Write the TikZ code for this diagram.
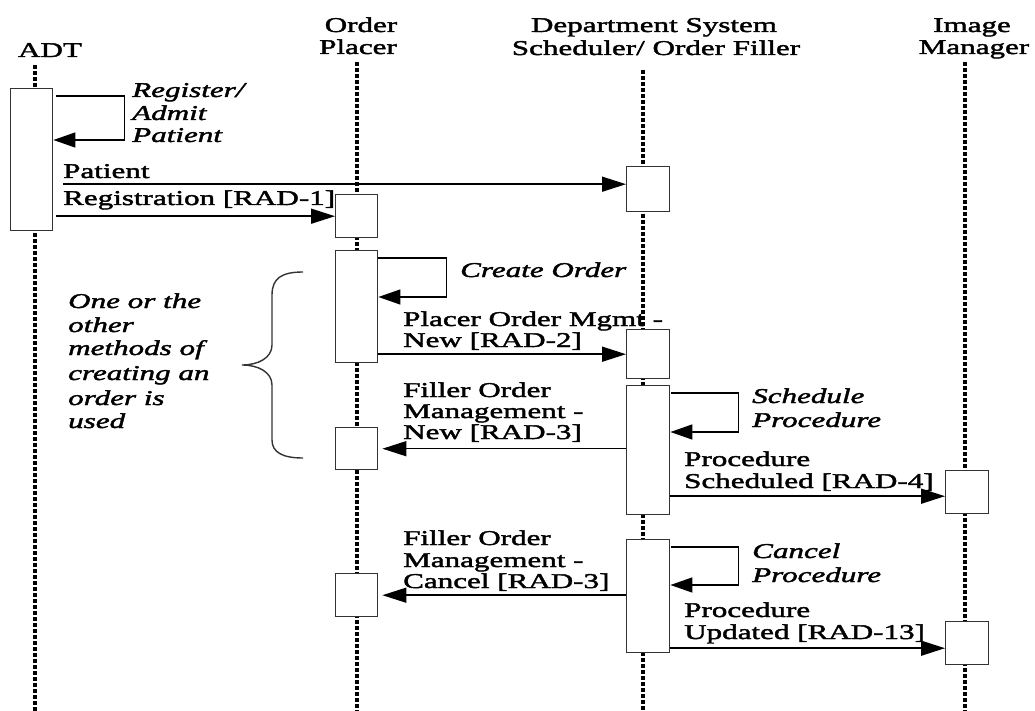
\documentclass[tikz,border=0pt]{standalone}
\usepackage{fontspec}
\setmainfont{Liberation Serif}[FakeStretch=1.48,FakeBold=2]
\usetikzlibrary{arrows.meta,calc}
\begin{document}
\begin{tikzpicture}[x=1pt,y=-1pt,
  font=\fontsize{21}{22}\selectfont,
  life/.style={line width=3.5pt, dash pattern=on 4pt off 2pt, black},
  act/.style={draw=black!80, line width=1.4pt, fill=white, inner sep=0pt,
              minimum width=43pt, anchor=north west},
  msg/.style={line width=1.5pt, -{Triangle[length=24pt,width=15pt]}},
  loopmsg/.style={line width=1.5pt, -{Triangle[length=22pt,width=15pt]}},
  lbl/.style={anchor=base west, inner sep=0pt},
  ilbl/.style={lbl, font=\fontsize{21}{22}\selectfont\itshape},
  hdr/.style={anchor=base, inner sep=0pt},
  brace/.style={line width=1.4pt, draw=black!80}]
\useasboundingbox (0,0) rectangle (1035,711);

% headers
\node[hdr] (hADT) at (50,57) {ADT};
\node[hdr] (hOP1) at (361,32) {Order};
\node[hdr] (hOP2) at (358,54) {Placer};
\node[hdr] (hDS1) at (654,32) {Department System};
\node[hdr] (hDS2) at (656,55) {Scheduler/ Order Filler};
\node[hdr] (hIM1) at (972,32) {Image};
\node[hdr] (hIM2) at (974,54) {Manager};

% lifelines
\coordinate (adtTop) at (35,65);  \coordinate (adtBot) at (35,711);
\coordinate (opTop) at (357,62);  \coordinate (opBot) at (357,711);
\coordinate (dsTop) at (643,70);  \coordinate (dsBot) at (643,711);
\coordinate (imTop) at (965,62);  \coordinate (imBot) at (965,711);
\draw[life] (adtTop) -- (adtBot);
\draw[life] (opTop) -- (opBot);
\draw[life] (dsTop) -- (dsBot);
\draw[life] (imTop) -- (imBot);

% activation boxes
\node[act, minimum width=42pt, minimum height=142pt] (adtA) at (10,88) {};
\node[act, minimum height=45pt]  (dsA) at (626,166) {};
\node[act, minimum width=42pt, minimum height=43pt]  (opA) at (335,194) {};
\node[act, minimum width=42pt, minimum height=112pt] (opB) at (335,250) {};
\node[act, minimum height=49pt]  (dsB) at (626,329) {};
\node[act, minimum height=129pt] (dsC) at (626,385) {};
\node[act, minimum width=42pt, minimum height=42pt]  (opC) at (335,427) {};
\node[act, minimum height=43pt]  (imA) at (945,470) {};
\node[act, minimum height=113pt] (dsD) at (626,539) {};
\node[act, minimum width=42pt, minimum height=43pt]  (opD) at (335,573) {};
\node[act, minimum height=43pt]  (imB) at (945,621) {};

% self loops
\draw[loopmsg] ([xshift=3pt,yshift=-8pt]adtA.north east) -- ++(68,0) |- ([yshift=-52pt]adtA.north east);
\draw[loopmsg] ([yshift=-8pt]opB.north east) -- ++(68,0) |- ([yshift=-47pt]opB.north east);
\draw[loopmsg] ([xshift=1pt,yshift=-8pt]dsC.north east) -- ++(67,0) |- ([yshift=-47pt]dsC.north east);
\draw[loopmsg] ([xshift=1pt,yshift=-8pt]dsD.north east) -- ++(67,0) |- ([yshift=-46pt]dsD.north east);

% messages
\draw[msg, shorten <=10pt] ([yshift=5pt]adtA.east |- dsA.west) -- ([yshift=5pt]dsA.west);
\draw[msg, shorten <=3pt] (adtA.east |- opA.west) -- (opA.west);
\draw[msg] (opB.east |- dsB.west) -- (dsB.west);
\draw[msg, shorten >=4pt] (dsC.west |- opC.east) -- (opC.east);
\draw[msg] ([yshift=-4pt]dsC.east |- imA.west) -- ([yshift=-4pt]imA.west);
\draw[msg, shorten >=4pt] (dsD.west |- opD.east) -- (opD.east);
\draw[msg] ([yshift=-5pt]dsD.east |- imB.west) -- ([yshift=-5pt]imB.west);

% brace
\draw[brace] (303,272) .. controls (282,272) and (272,278) .. (272,295)
  -- (272,345) .. controls (272,358) and (258,365) .. (242,365)
  .. controls (258,365) and (272,372) .. (272,385)
  -- (272,440) .. controls (272,452) and (282,458) .. (303,458);

% labels
\node[ilbl] (t1a) at (132,97) {Register/};
\node[ilbl] (t1b) at (132,120) {Admit};
\node[ilbl] (t1c) at (132,142) {Patient};

\node[lbl] (t2a) at (63,178) {Patient};
\node[lbl] (t2b) at (63,205) {Registration [RAD-1]};

\node[ilbl] (t3) at (460,277) {Create Order};

\node[lbl] (t4a) at (403,326) {Placer Order Mgmt -};
\node[lbl] (t4b) at (403,347) {New [RAD-2]};

\node[lbl] (t5a) at (403,397) {Filler Order};
\node[lbl] (t5b) at (403,418) {Management -};
\node[lbl] (t5c) at (403,439) {New [RAD-3]};

\node[ilbl] (t6a) at (752,403) {Schedule};
\node[ilbl] (t6b) at (752,427) {Procedure};

\node[lbl] (t7a) at (684,466) {Procedure};
\node[lbl] (t7b) at (684,488) {Scheduled [RAD-4]};

\node[lbl] (t8a) at (403,545) {Filler Order};
\node[lbl] (t8b) at (403,567) {Management -};
\node[lbl] (t8c) at (403,588) {Cancel [RAD-3]};

\node[ilbl] (t9a) at (752,558) {Cancel};
\node[ilbl] (t9b) at (752,582) {Procedure};

\node[lbl] (t10a) at (684,617) {Procedure};
\node[lbl] (t10b) at (684,639) {Updated [RAD-13]};

\node[ilbl] (n1) at (68,308) {One or the};
\node[ilbl] (n2) at (68,332) {other};
\node[ilbl] (n3) at (68,355) {methods of};
\node[ilbl] (n4) at (68,380) {creating an};
\node[ilbl] (n5) at (68,405) {order is};
\node[ilbl] (n6) at (68,428) {used};
\end{tikzpicture}
\end{document}
